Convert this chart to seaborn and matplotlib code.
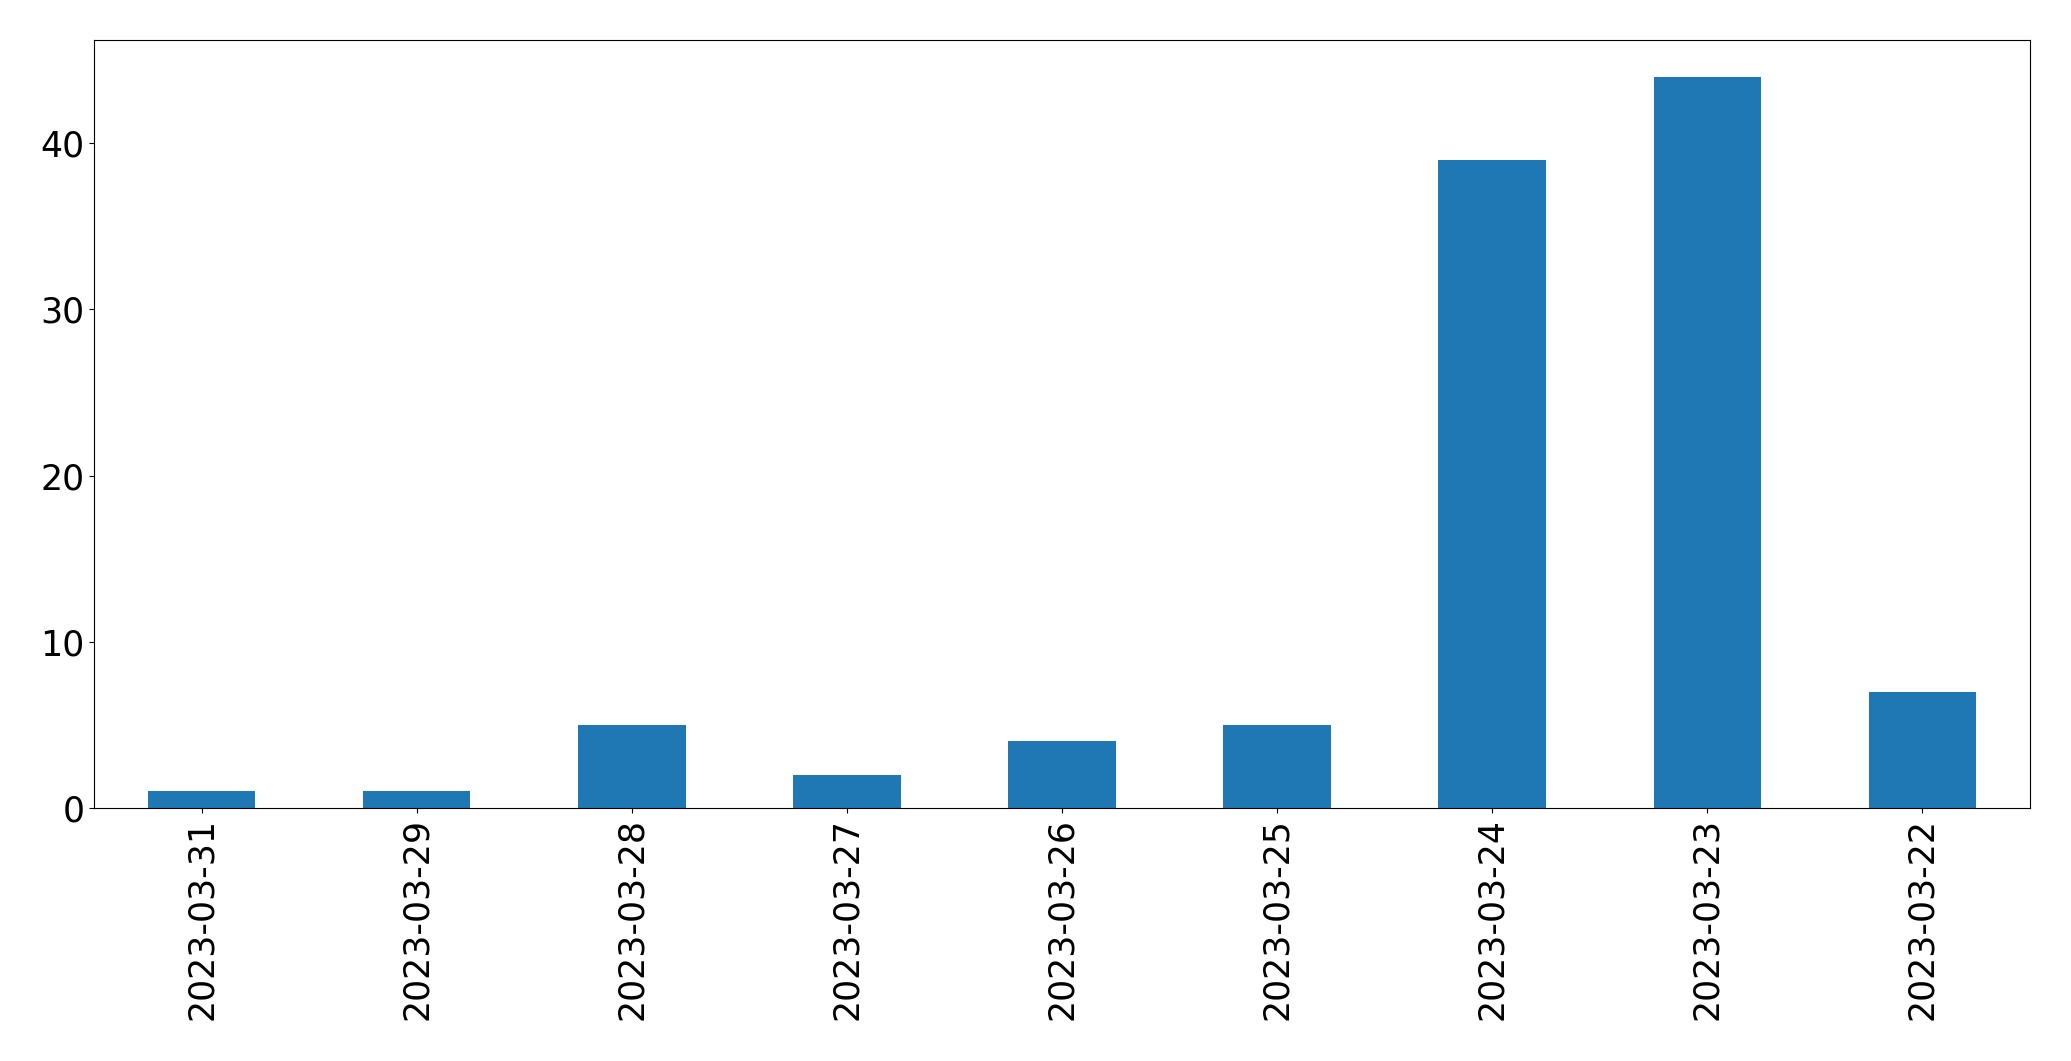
import matplotlib
matplotlib.use("Agg")
import matplotlib.pyplot as plt
import seaborn as sns
import pandas as pd

dates = ["2023-03-31", "2023-03-29", "2023-03-28", "2023-03-27", "2023-03-26",
         "2023-03-25", "2023-03-24", "2023-03-23", "2023-03-22"]
counts = [1, 1, 5, 2, 4, 5, 39, 44, 7]

df = pd.DataFrame({"date": dates, "count": counts})

fig = plt.figure(figsize=(20.71, 10.61), dpi=100)
ax = fig.add_axes([0.0454, 0.2385, 0.9348, 0.7238])
sns.barplot(data=df, x="date", y="count", order=dates, color="#1f77b4",
            saturation=1, width=0.5, linewidth=0, ax=ax)
ax.set_xlim(-0.5, len(dates) - 0.5)
ax.set_ylim(0, max(counts) * 1.05)
ax.set_yticks([0, 10, 20, 30, 40])
ax.set_xlabel("")
ax.set_ylabel("")
ax.tick_params(axis="both", labelsize=25)
ax.tick_params(axis="x", labelrotation=90)
fig.savefig("out.png", dpi=100)
